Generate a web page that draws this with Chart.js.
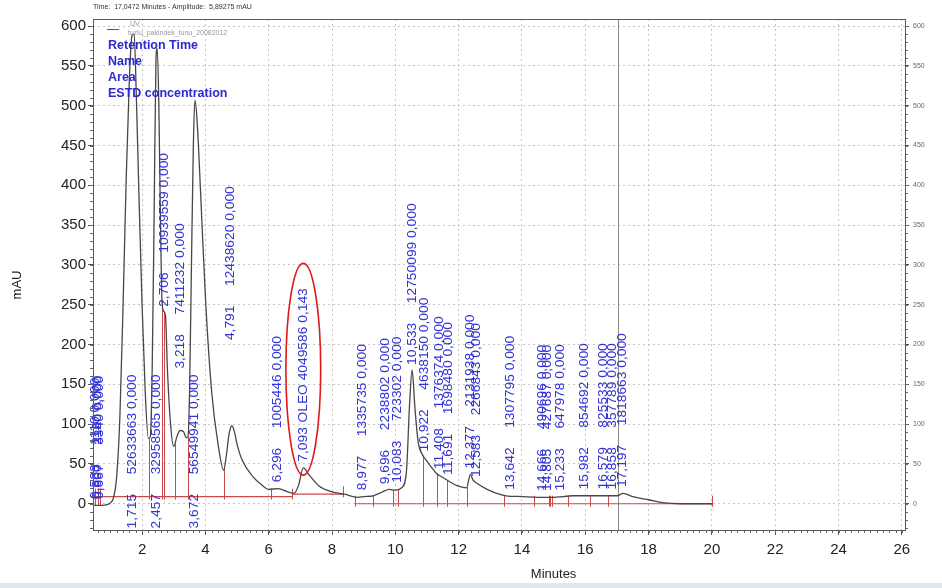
<!DOCTYPE html>
<html>
<head>
<meta charset="utf-8">
<script src="https://cdn.jsdelivr.net/npm/chart.js@4.4.1/dist/chart.umd.min.js"></script>
<style>
  html, body { margin: 0; padding: 0; background: #fff; }
  #wrap { position: relative; width: 942px; height: 588px; overflow: hidden; }
  #band { position: absolute; left: 0; top: 583px; width: 942px; height: 5px; background: #dfe7f1; }
</style>
</head>
<body>
<div id="wrap">
  <canvas id="chromChart" width="942" height="583"></canvas>
  <div id="band"></div>
</div>
<script>
// UV trace (minutes / mAU)
const traceTime = [0.45, 0.7, 0.9, 1.0, 1.1, 1.2, 1.3, 1.4, 1.5, 1.6, 1.68, 1.75, 1.82, 1.9, 2.0, 2.1, 2.2, 2.26,
  2.32, 2.38, 2.44, 2.48, 2.53, 2.58, 2.63, 2.68, 2.74, 2.8, 2.9, 3.0, 3.1, 3.2, 3.3, 3.4, 3.45, 3.5, 3.56, 3.62,
  3.67, 3.74, 3.85, 4.0, 4.2, 4.4, 4.58, 4.66, 4.75, 4.84, 4.92, 5.0, 5.16, 5.5, 5.8, 6.0, 6.3, 6.6, 6.8, 6.95, 7.09,
  7.3, 7.6, 8.0, 8.4, 8.8, 9.0, 9.3, 9.6, 9.8, 10.0, 10.2, 10.35, 10.45, 10.53, 10.62, 10.72, 10.85, 10.95, 11.1,
  11.3, 11.5, 11.7, 12.0, 12.25, 12.37, 12.45, 12.6, 12.9, 13.2, 13.5, 14.0, 14.7, 15.0, 15.3, 15.6, 16.0, 16.5,
  17.0, 17.2, 17.5, 18.0, 18.5, 19.0, 20.0];
const traceMAU = [-2, -2, -1, 1, 8, 35, 110, 250, 410, 535, 588, 590, 510, 390, 250, 140, 82, 84,
  170, 360, 560, 572, 500, 360, 255, 242, 236, 170, 100, 72, 84, 92, 91, 83, 84, 140, 300, 450,
  507, 480, 390, 260, 140, 75, 42, 60, 88, 98, 90, 75, 55, 34, 23, 18, 19, 15, 13, 24, 45,
  35, 22, 15, 12, 8, 9, 10, 15, 18, 17, 20, 40, 125, 168, 120, 78, 62, 56, 48,
  38, 33, 28, 22, 20, 37, 30, 25, 18, 13, 10, 9, 8, 8, 9, 10, 10, 10,
  10, 13, 9, 5, 1, 0, 0];

// peak table
const peakRT = [0.533, 0.600, 0.667, 1.715, 2.457, 2.706, 3.218, 3.672, 4.791, 6.296, 7.093, 8.977, 9.696,
  10.083, 10.533, 10.922, 11.408, 11.691, 12.377, 12.583, 13.642, 14.666, 14.805, 15.233, 15.982, 16.579,
  16.858, 17.197];
const peakName = ['', '', '', '', '', '', '', '', '', '', 'OLEO', '', '', '', '', '', '', '', '', '', '', '', '',
  '', '', '', '', ''];
const peakArea = [1110, 2160, 3340, 52633663, 32958565, 10939559, 7411232, 56549941, 12438620, 1005446, 4049586,
  1335735, 2238802, 723302, 12750099, 4638150, 1376374, 1698480, 2131938, 2266843, 1307795, 490696, 427687,
  647978, 854692, 825533, 357789, 1818663];
const peakConc = [0, 0, 0, 0, 0, 0, 0, 0, 0, 0, 0.143, 0, 0, 0, 0, 0, 0, 0, 0, 0, 0, 0, 0, 0, 0, 0, 0, 0];

// integration baselines and drop lines
const baseStart = [0.45, 6.75, 8.73];
const baseEnd = [6.75, 8.35, 20.0];
const baseLevel = [9, 12, 0];
const dropTimes = [0.52, 0.6, 0.68, 2.21, 2.63, 2.70, 3.03, 3.44, 4.60, 6.08, 6.75, 8.35, 8.73, 9.29, 9.94,
  10.10, 10.87, 11.31, 11.63, 12.26, 13.42, 14.39, 14.84, 14.90, 14.95, 15.47, 16.15, 16.73, 20.0];

const xTickValues = [2, 4, 6, 8, 10, 12, 14, 16, 18, 20, 22, 24, 26];
const yTickValues = [0, 50, 100, 150, 200, 250, 300, 350, 400, 450, 500, 550, 600];
const cursorTime = 17.0472;
const cursorAmp = 5.89275;
const headerLines = ['Retention Time', 'Name', 'Area', 'ESTD concentration'];

const FONT = '"Liberation Sans", Arial, sans-serif';
const BLUE = '#3232d6';

function traceAt(t) {
  if (t <= traceTime[0]) return traceMAU[0];
  for (let i = 1; i < traceTime.length; i++) {
    if (t <= traceTime[i]) {
      const f = (t - traceTime[i - 1]) / (traceTime[i] - traceTime[i - 1]);
      return traceMAU[i - 1] + f * (traceMAU[i] - traceMAU[i - 1]);
    }
  }
  return traceMAU[traceMAU.length - 1];
}

function baseAt(t) {
  for (let i = 0; i < baseStart.length; i++) {
    if (t >= baseStart[i] && t <= baseEnd[i]) return baseLevel[i];
  }
  return 0;
}

const comma = (v, d) => v.toFixed(d).replace('.', ',');

// labels that the software pushed up to clear their neighbours
const labelRaise = { 3.218: 70, 4.791: 105 };

const chromPlugin = {
  id: 'chromDecor',
  beforeDatasetsDraw(chart) {
    const { ctx, chartArea: a, scales: { x, y } } = chart;
    ctx.save();
    ctx.strokeStyle = '#cc4a4a';
    ctx.lineWidth = 1;
    dropTimes.forEach(t => {
      const px = Math.round(x.getPixelForValue(t)) + 0.5;
      const b = y.getPixelForValue(baseAt(t));
      const tr = y.getPixelForValue(traceAt(t));
      const top = Math.min(tr, b - 8);
      const bot = Math.max(tr, b + 3);
      ctx.beginPath();
      ctx.moveTo(px, bot);
      ctx.lineTo(px, top);
      ctx.stroke();
    });
    // cursor
    const cx = Math.round(x.getPixelForValue(cursorTime)) + 0.5;
    ctx.strokeStyle = '#8a8a8a';
    ctx.beginPath();
    ctx.moveTo(cx, a.top);
    ctx.lineTo(cx, a.bottom);
    ctx.stroke();
    ctx.restore();
  },
  afterDatasetsDraw(chart) {
    const { ctx, scales: { x, y } } = chart;
    ctx.save();
    ctx.fillStyle = BLUE;
    ctx.font = '12px ' + FONT;
    ctx.textBaseline = 'middle';
    ctx.textAlign = 'left';
    peakRT.forEach((rt, i) => {
      const h = traceAt(rt);
      const lvl = h > 300 ? -31 : h + 8 + (labelRaise[rt] || 0);
      const px = x.getPixelForValue(rt);
      const py = y.getPixelForValue(lvl);
      const rtText = comma(rt, 3);
      const rest = (peakName[i] ? peakName[i] + ' ' : '') + peakArea[i] + ' ' + comma(peakConc[i], 3);
      const gap = peakName[i] ? 4 : 17;
      ctx.save();
      ctx.translate(px, py);
      ctx.rotate(-Math.PI / 2);
      ctx.scale(1.15, 1);
      ctx.fillText(rtText, 0, 0);
      ctx.fillText(rest, ctx.measureText(rtText).width + gap, 0);
      ctx.restore();
    });
    // red ellipse round the named peak
    const k = peakName.indexOf('OLEO');
    const ex = x.getPixelForValue(peakRT[k]);
    const eTop = y.getPixelForValue(302);
    const eBot = y.getPixelForValue(36);
    const rx = x.getPixelForValue(peakRT[k] + 0.55) - ex;
    ctx.strokeStyle = '#e01818';
    ctx.lineWidth = 1.6;
    ctx.beginPath();
    ctx.ellipse(ex, (eTop + eBot) / 2, rx, (eBot - eTop) / 2, 0, 0, Math.PI * 2);
    ctx.stroke();
    ctx.restore();
  },
  afterDraw(chart) {
    const { ctx, chartArea: a, scales: { x, y } } = chart;
    ctx.save();
    // frame
    ctx.strokeStyle = '#5a5a5a';
    ctx.lineWidth = 1;
    ctx.strokeRect(Math.round(a.left) + 0.5, Math.round(a.top) + 0.5,
      Math.round(a.right - a.left), Math.round(a.bottom - a.top));
    // minor ticks
    ctx.strokeStyle = '#666';
    ctx.beginPath();
    for (let v = -30; v <= 600; v += 10) {
      const py = Math.round(y.getPixelForValue(v)) + 0.5;
      ctx.moveTo(a.left - 3, py); ctx.lineTo(a.left, py);
      ctx.moveTo(a.right, py); ctx.lineTo(a.right + 3, py);
    }
    for (let t = 0.6; t <= 26.05; t += 0.2) {
      const px = Math.round(x.getPixelForValue(t)) + 0.5;
      ctx.moveTo(px, a.bottom); ctx.lineTo(px, a.bottom + 3);
    }
    ctx.stroke();
    // header
    ctx.fillStyle = '#333';
    ctx.font = '7px ' + FONT;
    ctx.textBaseline = 'middle';
    ctx.fillText('Time:  ' + comma(cursorTime, 4) + ' Minutes - Amplitude:  ' + comma(cursorAmp, 5) + ' mAU', 93, 7);
    // legend
    ctx.strokeStyle = '#555';
    ctx.beginPath();
    ctx.moveTo(107, 29.5); ctx.lineTo(119, 29.5);
    ctx.stroke();
    ctx.fillStyle = '#999';
    ctx.fillText('UV', 130, 24);
    ctx.fillText('tuzlu_pakindek_tunu_20082012', 128, 33);
    // blue header block
    ctx.fillStyle = '#2a2ad0';
    ctx.font = 'bold 12.5px ' + FONT;
    headerLines.forEach((s, i) => ctx.fillText(s, 108, 46 + i * 15.7));
    // axis titles
    ctx.fillStyle = '#222';
    ctx.font = '13px ' + FONT;
    ctx.textAlign = 'center';
    ctx.fillText('Minutes', (x.getPixelForValue(15)), 574);
    ctx.save();
    ctx.translate(17, 285);
    ctx.rotate(-Math.PI / 2);
    ctx.fillText('mAU', 0, 0);
    ctx.restore();
    ctx.restore();
  }
};

const datasets = [{
  label: 'UV',
  data: traceTime.map((t, i) => ({ x: t, y: traceMAU[i] })),
  borderColor: '#474747',
  borderWidth: 1.3,
  pointRadius: 0,
  cubicInterpolationMode: 'monotone',
  order: 0
}];
baseStart.forEach((s, i) => {
  datasets.push({
    label: 'baseline ' + (i + 1),
    data: [{ x: s, y: baseLevel[i] }, { x: baseEnd[i], y: baseLevel[i] }],
    borderColor: '#cc4a4a',
    borderWidth: 1.2,
    pointRadius: 0,
    order: 1
  });
});

const gridOpts = { color: '#c6c6c6', tickColor: '#555', tickLength: 5, tickBorderDash: [] };

new Chart(document.getElementById('chromChart'), {
  type: 'line',
  data: { datasets },
  options: {
    responsive: false,
    animation: false,
    layout: { padding: { top: 19 } },
    plugins: { legend: { display: false }, tooltip: { enabled: false } },
    scales: {
      x: {
        type: 'linear', min: 0.45, max: 26.1,
        afterBuildTicks: s => { s.ticks = xTickValues.map(v => ({ value: v })); },
        afterFit: s => { s.height = 53; },
        grid: gridOpts,
        border: { display: false, dash: [2, 3] },
        ticks: { font: { family: FONT, size: 15 }, color: '#222', padding: 6, maxRotation: 0 }
      },
      y: {
        min: -33, max: 609,
        afterBuildTicks: s => { s.ticks = yTickValues.map(v => ({ value: v })); },
        afterFit: s => { s.width = 93; },
        grid: gridOpts,
        border: { display: false, dash: [2, 3] },
        ticks: { font: { family: FONT, size: 15 }, color: '#222', padding: 2 }
      },
      y2: {
        position: 'right', min: -33, max: 609,
        afterBuildTicks: s => { s.ticks = yTickValues.map(v => ({ value: v })); },
        afterFit: s => { s.width = 37; },
        grid: { drawOnChartArea: false, tickColor: '#555', tickLength: 4 },
        border: { display: false },
        ticks: { font: { family: FONT, size: 7 }, color: '#666', padding: 4 }
      }
    }
  },
  plugins: [chromPlugin]
});
</script>
</body>
</html>
